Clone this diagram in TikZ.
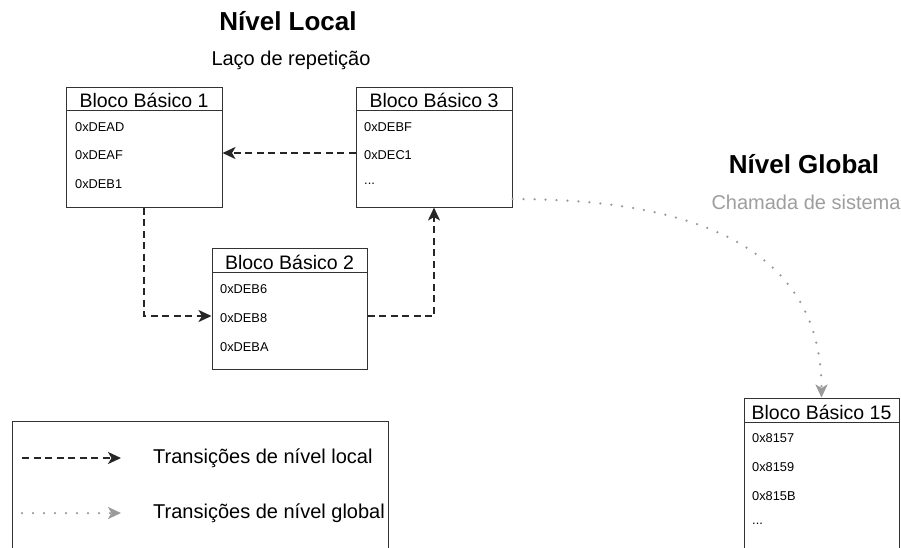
\documentclass[tikz,border=0pt]{standalone}
\usepackage{fontspec}
\setmainfont{Liberation Sans}
\usetikzlibrary{arrows.meta}
\definecolor{dotgray}{HTML}{9A9A9A}
\definecolor{subgray}{HTML}{9E9E9E}
\definecolor{linecol}{HTML}{333333}
\begin{document}
\begin{tikzpicture}[x=1pt,y=-1pt,
  blockbox/.style={draw=linecol, line width=1pt, inner sep=0pt},
  hdrline/.style={draw=linecol, line width=1pt},
  hdr/.style={font=\fontsize{19.5}{22}\selectfont, inner sep=0pt},
  rowtxt/.style={font=\fontsize{12.8}{15}\selectfont, anchor=west, inner sep=0pt},
  bigtitle/.style={font=\fontsize{26}{30}\selectfont\bfseries, inner sep=0pt},
  subtitle/.style={font=\fontsize{20}{24}\selectfont, inner sep=0pt},
  legtxt/.style={font=\fontsize{20}{24}\selectfont, anchor=west, inner sep=0pt},
  localarrow/.style={draw=black!85, line width=2pt, dash pattern=on 7pt off 4.5pt, -{Stealth[length=13pt,width=12pt,inset=3.5pt]}},
  globalarrow/.style={draw=dotgray, line width=2.5pt, dash pattern=on 0pt off 11pt, line cap=round, -{Stealth[length=13pt,width=12pt,inset=3.5pt,line cap=butt]}}
]
\useasboundingbox (0,0) rectangle (901,547);
\clip (0,0) rectangle (901,547);
\fill[white] (0,0) rectangle (901,547);

% titles
\node[bigtitle] (tl) at (288,21) {Nível Local};
\node[subtitle] (sl) at (291,60) {Laço de repetição};
\node[bigtitle] (tg) at (804,164) {Nível Global};
\node[subtitle, text=subgray] (sg) at (806,202) {Chamada de sistema};

% block 1
\node[blockbox, minimum width=156pt, minimum height=120pt] (b1) at (144,147) {};
\draw[hdrline] (66,110) -- (222,110);
\node[hdr] (h1) at (144,100) {Bloco Básico 1};
\node[rowtxt] (r11) at (75,127) {0xDEAD};
\node[rowtxt] (r12) at (75,155) {0xDEAF};
\node[rowtxt] (r13) at (75,184) {0xDEB1};

% block 3
\node[blockbox, minimum width=156pt, minimum height=120pt] (b3) at (434,147) {};
\draw[hdrline] (356,110) -- (512,110);
\node[hdr] (h3) at (434,100) {Bloco Básico 3};
\node[rowtxt] (r31) at (364,127) {0xDEBF};
\node[rowtxt] (r32) at (364,155) {0xDEC1};
\node[rowtxt] (r33) at (364,184) {...};

% block 2
\node[blockbox, minimum width=155pt, minimum height=121pt] (b2) at (289.5,308.5) {};
\draw[hdrline] (212,272) -- (367,272);
\node[hdr] (h2) at (289.5,262) {Bloco Básico 2};
\node[rowtxt] (r21) at (220,289) {0xDEB6};
\node[rowtxt] (r22) at (220,318) {0xDEB8};
\node[rowtxt] (r23) at (220,347) {0xDEBA};

% block 15
\node[blockbox, minimum width=155pt, minimum height=170pt] (b15) at (821.5,483) {};
\draw[hdrline] (744,422) -- (899,422);
\node[hdr] (h15) at (821.5,412) {Bloco Básico 15};
\node[rowtxt] (r151) at (752,438) {0x8157};
\node[rowtxt] (r152) at (752,467) {0x8159};
\node[rowtxt] (r153) at (752,496) {0x815B};
\node[rowtxt] (r154) at (752,524) {...};

% local transitions
\draw[localarrow] (b3.west |- 0,153) -- (b1.east |- 0,153);
\draw[localarrow] (b1.south) |- (b2.west |- 0,316);
\draw[localarrow] (b2.east |- 0,316) -| (b3.south);

% global transition
\draw[globalarrow] (b3.east |- 0,199) .. controls (680,199) and (821.5,240) .. (b15.north);

% legend
\node[blockbox, minimum width=376pt, minimum height=160pt] (leg) at (200,501) {};
\coordinate (l1s) at (22,458);
\coordinate (l1e) at (121,458);
\coordinate (l2s) at (22,513);
\coordinate (l2e) at (121,513);
\draw[localarrow] (l1s) -- (l1e);
\draw[globalarrow] (l2s) -- (l2e);
\node[legtxt] (lt1) at (153,458) {Transições de nível local};
\node[legtxt] (lt2) at (153,513) {Transições de nível global};
\end{tikzpicture}
\end{document}
